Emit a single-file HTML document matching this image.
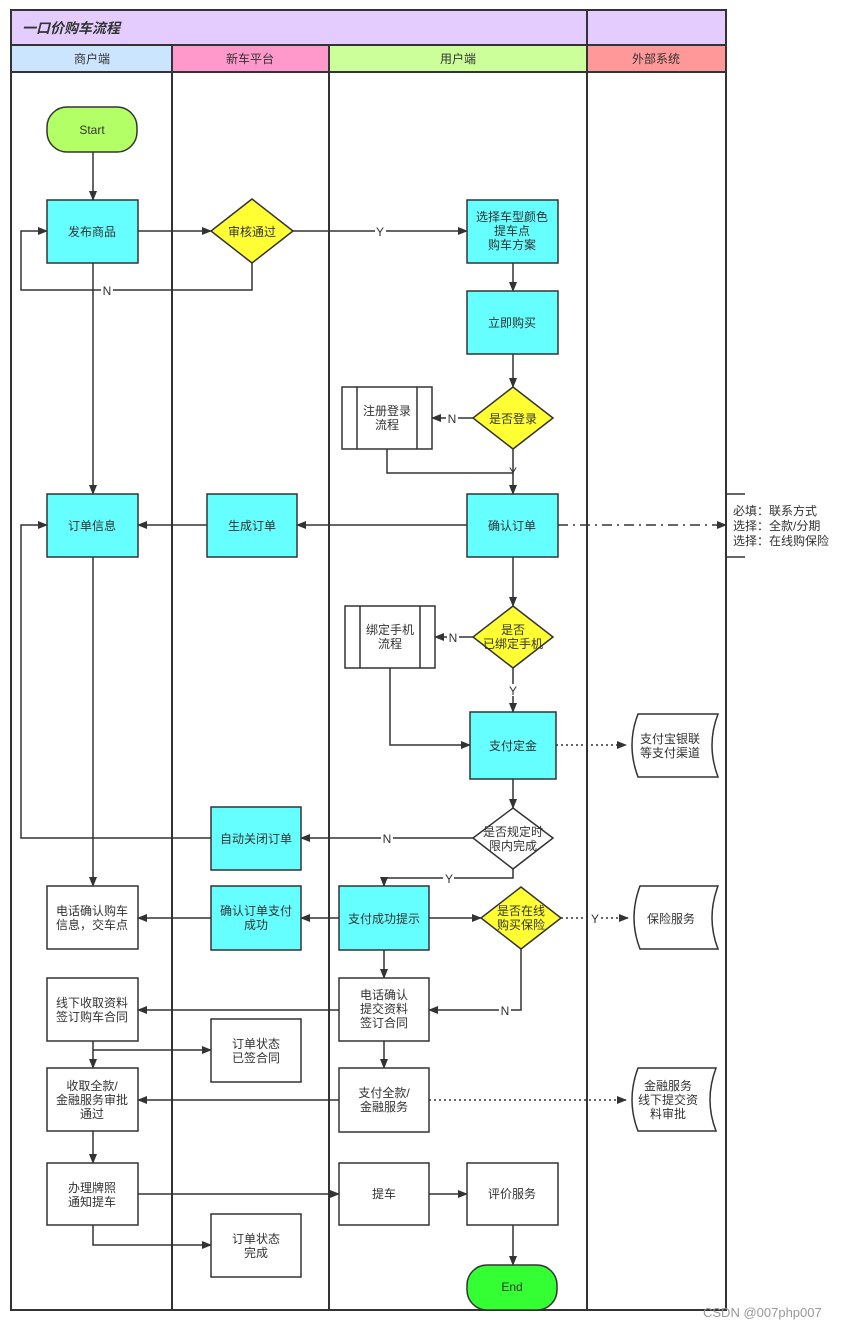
<!DOCTYPE html>
<html><head><meta charset="utf-8"><style>
html,body{margin:0;padding:0;background:#fff;}
svg text{font-family:"Liberation Sans","Noto Sans CJK SC",sans-serif;font-size:12px;fill:#333;}
</style></head><body>
<svg width="850" height="1329" viewBox="0 0 850 1329" xmlns="http://www.w3.org/2000/svg">
<defs>
<marker id="a" markerWidth="10" markerHeight="10" refX="9" refY="5" orient="auto" markerUnits="userSpaceOnUse"><path d="M0,1 L10,5 L0,9 Z" fill="#333"/></marker>
</defs>
<!-- frame -->
<rect x="11" y="10" width="715" height="35" fill="#e4ccff" stroke="#333" stroke-width="2"/>
<line x1="587" y1="10" x2="587" y2="45" stroke="#333" stroke-width="2"/>
<text x="22" y="33" style="font-size:14px;font-weight:bold;font-style:italic">一口价购车流程</text>
<rect x="11" y="45" width="161" height="27" fill="#cce5ff" stroke="#333" stroke-width="2"/>
<rect x="172" y="45" width="157" height="27" fill="#ff99cc" stroke="#333" stroke-width="2"/>
<rect x="329" y="45" width="258" height="27" fill="#ccff99" stroke="#333" stroke-width="2"/>
<rect x="587" y="45" width="139" height="27" fill="#ff9999" stroke="#333" stroke-width="2"/>
<text x="92" y="63" text-anchor="middle">商户端</text>
<text x="250" y="63" text-anchor="middle">新车平台</text>
<text x="458" y="63" text-anchor="middle">用户端</text>
<text x="656" y="63" text-anchor="middle">外部系统</text>
<rect x="11" y="72" width="715" height="1238" fill="none" stroke="#333" stroke-width="2"/>
<g stroke="#333" stroke-width="2"><line x1="172" y1="72" x2="172" y2="1310"/><line x1="329" y1="72" x2="329" y2="1310"/><line x1="587" y1="72" x2="587" y2="1310"/></g>

<!-- connectors -->
<g stroke="#333" stroke-width="1.5" fill="none">
<line x1="93" y1="152" x2="93" y2="200" marker-end="url(#a)"/>
<line x1="138" y1="231" x2="211" y2="231" marker-end="url(#a)"/>
<line x1="293" y1="231" x2="467" y2="231" marker-end="url(#a)"/>
<polyline points="252,263 252,290 21,290 21,231 47,231" marker-end="url(#a)"/>
<line x1="93" y1="263" x2="93" y2="494" marker-end="url(#a)"/>
<line x1="513" y1="263" x2="513" y2="291" marker-end="url(#a)"/>
<line x1="513" y1="354" x2="513" y2="387" marker-end="url(#a)"/>
<line x1="473" y1="418" x2="432" y2="418" marker-end="url(#a)"/>
<line x1="513" y1="449" x2="513" y2="494" marker-end="url(#a)"/>
<polyline points="387,449 387,473 513,473"/>
<line x1="467" y1="525" x2="297" y2="525" marker-end="url(#a)"/>
<line x1="207" y1="525" x2="138" y2="525" marker-end="url(#a)"/>
<line x1="558" y1="525" x2="726" y2="525" stroke-dasharray="10,5,2,5" marker-end="url(#a)"/>
<line x1="513" y1="557" x2="513" y2="606" marker-end="url(#a)"/>
<line x1="473" y1="637" x2="435" y2="637" marker-end="url(#a)"/>
<line x1="513" y1="668" x2="513" y2="712" marker-end="url(#a)"/>
<polyline points="390,668 390,745 470,745" marker-end="url(#a)"/>
<line x1="556" y1="745" x2="626" y2="745" stroke-dasharray="2,3" marker-end="url(#a)"/>
<line x1="513" y1="779" x2="513" y2="808" marker-end="url(#a)"/>
<line x1="473" y1="838" x2="301" y2="838" marker-end="url(#a)"/>
<polyline points="211,838 21,838 21,525 47,525" marker-end="url(#a)"/>
<polyline points="513,869 513,878 384,878 384,886" marker-end="url(#a)"/>
<line x1="93" y1="557" x2="93" y2="886" marker-end="url(#a)"/>
<line x1="339" y1="918" x2="301" y2="918" marker-end="url(#a)"/>
<line x1="211" y1="918" x2="138" y2="918" marker-end="url(#a)"/>
<line x1="429" y1="918" x2="481" y2="918" marker-end="url(#a)"/>
<line x1="561" y1="918" x2="628" y2="918" stroke-dasharray="2,3" marker-end="url(#a)"/>
<polyline points="521,949 521,1010 429,1010" marker-end="url(#a)"/>
<line x1="384" y1="950" x2="384" y2="978" marker-end="url(#a)"/>
<line x1="339" y1="1010" x2="138" y2="1010" marker-end="url(#a)"/>
<line x1="93" y1="1041" x2="93" y2="1068" marker-end="url(#a)"/>
<polyline points="93,1050 211,1050" marker-end="url(#a)"/>
<line x1="384" y1="1041" x2="384" y2="1068" marker-end="url(#a)"/>
<line x1="339" y1="1100" x2="138" y2="1100" marker-end="url(#a)"/>
<line x1="429" y1="1100" x2="626" y2="1100" stroke-dasharray="2,3" marker-end="url(#a)"/>
<line x1="93" y1="1131" x2="93" y2="1163" marker-end="url(#a)"/>
<line x1="138" y1="1194" x2="339" y2="1194" marker-end="url(#a)"/>
<polyline points="93,1225 93,1245 211,1245" marker-end="url(#a)"/>
<line x1="429" y1="1194" x2="467" y2="1194" marker-end="url(#a)"/>
<line x1="513" y1="1225" x2="513" y2="1265" marker-end="url(#a)"/>
<polyline points="745,494 726,494 726,557 745,557"/>
</g>
<!-- connector labels -->
<g>
<rect x="375" y="225" width="11" height="12" fill="#fff"/><text x="380" y="236" text-anchor="middle">Y</text>
<rect x="101" y="284" width="12" height="12" fill="#fff"/><text x="107" y="295" text-anchor="middle" fill="#336">N</text>
<rect x="446" y="412" width="12" height="12" fill="#fff"/><text x="452" y="423" text-anchor="middle">N</text>
<text x="513" y="476" text-anchor="middle">Y</text>
<rect x="447" y="631" width="12" height="12" fill="#fff"/><text x="453" y="642" text-anchor="middle">N</text>
<rect x="508" y="684" width="11" height="12" fill="#fff"/><text x="513" y="695" text-anchor="middle">Y</text>
<rect x="381" y="832" width="12" height="12" fill="#fff"/><text x="387" y="843" text-anchor="middle">N</text>
<rect x="443" y="872" width="11" height="12" fill="#fff"/><text x="449" y="883" text-anchor="middle">Y</text>
<rect x="589" y="912" width="11" height="12" fill="#fff"/><text x="595" y="923" text-anchor="middle">Y</text>
<rect x="499" y="1004" width="12" height="12" fill="#fff"/><text x="505" y="1015" text-anchor="middle" fill="#963">N</text>
</g>

<!-- nodes -->
<g stroke="#333" stroke-width="1.5">
<rect x="47" y="107" width="90" height="45" rx="20" fill="#b3ff66"/>
<rect x="47" y="200" width="91" height="63" fill="#66ffff"/>
<polygon points="252,199 293,231 252,263 211,231" fill="#ffff33"/>
<rect x="467" y="200" width="91" height="63" fill="#66ffff"/>
<rect x="467" y="291" width="91" height="63" fill="#66ffff"/>
<polygon points="513,387 553,418 513,449 473,418" fill="#ffff33"/>
<rect x="342" y="387" width="90" height="62" fill="#fff"/>
<line x1="357" y1="387" x2="357" y2="449"/><line x1="417" y1="387" x2="417" y2="449"/>
<rect x="467" y="494" width="91" height="63" fill="#66ffff"/>
<rect x="207" y="494" width="90" height="63" fill="#66ffff"/>
<rect x="47" y="494" width="91" height="63" fill="#66ffff"/>
<polygon points="513,606 553,637 513,668 473,637" fill="#ffff33"/>
<rect x="345" y="606" width="90" height="62" fill="#fff"/>
<line x1="360" y1="606" x2="360" y2="668"/><line x1="420" y1="606" x2="420" y2="668"/>
<rect x="470" y="712" width="86" height="67" fill="#66ffff"/>
<path d="M638,714 L718,714 Q706,745 718,777 L638,777 Q626,745 638,714 Z" fill="#fff"/>
<polygon points="513,808 553,838 513,869 473,838" fill="#fff"/>
<rect x="211" y="807" width="90" height="63" fill="#66ffff"/>
<rect x="47" y="886" width="91" height="63" fill="#fff"/>
<rect x="211" y="886" width="90" height="64" fill="#66ffff"/>
<rect x="339" y="886" width="90" height="64" fill="#66ffff"/>
<polygon points="521,887 561,918 521,949 481,918" fill="#ffff33"/>
<path d="M640,886 L718,886 Q706,918 718,949 L640,949 Q628,918 640,886 Z" fill="#fff"/>
<rect x="47" y="978" width="91" height="63" fill="#fff"/>
<rect x="339" y="978" width="90" height="63" fill="#fff"/>
<rect x="211" y="1019" width="90" height="63" fill="#fff"/>
<rect x="47" y="1068" width="91" height="63" fill="#fff"/>
<rect x="339" y="1068" width="90" height="64" fill="#fff"/>
<path d="M638,1068 L716,1068 Q704,1100 716,1131 L638,1131 Q626,1100 638,1068 Z" fill="#fff"/>
<rect x="47" y="1163" width="91" height="62" fill="#fff"/>
<rect x="339" y="1163" width="90" height="62" fill="#fff"/>
<rect x="467" y="1163" width="91" height="62" fill="#fff"/>
<rect x="211" y="1214" width="90" height="63" fill="#fff"/>
<rect x="467" y="1265" width="90" height="45" rx="20" fill="#33ff33"/>
</g>

<!-- node text -->
<g text-anchor="middle">
<text x="92" y="134">Start</text>
<text x="92" y="236">发布商品</text>
<text x="252" y="236">审核通过</text>
<text x="512" y="221">选择车型颜色</text><text x="512" y="235">提车点</text><text x="512" y="249">购车方案</text>
<text x="512" y="327">立即购买</text>
<text x="513" y="423">是否登录</text>
<text x="387" y="415">注册登录</text><text x="387" y="429">流程</text>
<text x="512" y="530">确认订单</text>
<text x="252" y="530">生成订单</text>
<text x="92" y="530">订单信息</text>
<text x="513" y="634">是否</text><text x="513" y="648">已绑定手机</text>
<text x="390" y="634">绑定手机</text><text x="390" y="648">流程</text>
<text x="513" y="750">支付定金</text>
<text x="670" y="743">支付宝银联</text><text x="670" y="757">等支付渠道</text>
<text x="513" y="836">是否规定时</text><text x="513" y="850">限内完成</text>
<text x="256" y="843">自动关闭订单</text>
<text x="92" y="915">电话确认购车</text><text x="92" y="929">信息，交车点</text>
<text x="256" y="915">确认订单支付</text><text x="256" y="929">成功</text>
<text x="384" y="923">支付成功提示</text>
<text x="521" y="915">是否在线</text><text x="521" y="929">购买保险</text>
<text x="671" y="923">保险服务</text>
<text x="92" y="1007">线下收取资料</text><text x="92" y="1021">签订购车合同</text>
<text x="384" y="999">电话确认</text><text x="384" y="1013">提交资料</text><text x="384" y="1027">签订合同</text>
<text x="256" y="1048">订单状态</text><text x="256" y="1062">已签合同</text>
<text x="92" y="1090">收取全款/</text><text x="92" y="1104">金融服务审批</text><text x="92" y="1118">通过</text>
<text x="384" y="1097">支付全款/</text><text x="384" y="1111">金融服务</text>
<text x="668" y="1090">金融服务</text><text x="668" y="1104">线下提交资</text><text x="668" y="1118">料审批</text>
<text x="92" y="1192">办理牌照</text><text x="92" y="1206">通知提车</text>
<text x="384" y="1198">提车</text>
<text x="512" y="1198">评价服务</text>
<text x="256" y="1243">订单状态</text><text x="256" y="1257">完成</text>
<text x="512" y="1291">End</text>
</g>
<text x="733" y="515">必填：联系方式</text>
<text x="733" y="530">选择：全款/分期</text>
<text x="733" y="545">选择：在线购保险</text>
<text x="703" y="1317" style="font-size:13px;fill:#999">CSDN @007php007</text>
</svg>
</body></html>
